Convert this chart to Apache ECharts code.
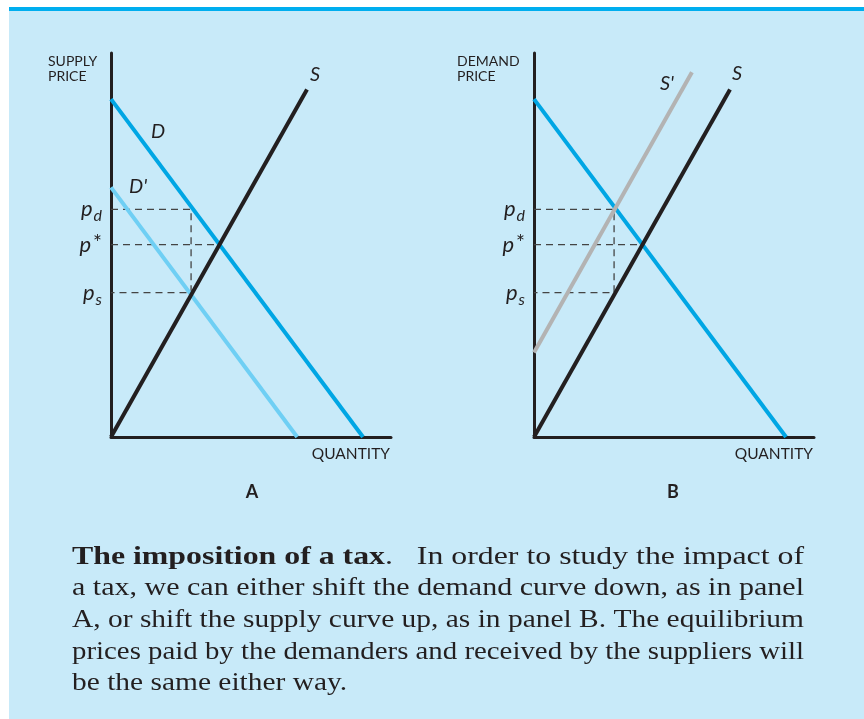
<!DOCTYPE html>
<html>
<head>
<meta charset="utf-8">
<script src="https://cdn.jsdelivr.net/npm/echarts@6/dist/echarts.min.js"></script>
<style>
html, body { margin: 0; padding: 0; background: #fff; }
#main { width: 864px; height: 719px; }
</style>
</head>
<body>
<div id="main"></div>
<script>
// curves in data units (x: quantity 0-100, y: price 0-100)
var demand = [[0, 88], [90, 0]];
var demandShifted = [[0, 65], [66.5, 0]];
var supply = [[0, 0], [70, 90.5]];
var supplyShifted = [[0, 22], [56.4, 95]];

// prices marked on the axis, and the two quantities
var priceTicks = [37.6, 50.1, 59.3];
var priceLabels = ['{p|p}{sub|s}', '{p|p}{sup|*}', '{p|p}{sub|d}'];
var qTax = 28.6;
var qStar = 38.7;

var captionLines = [
    '{b|The imposition of a tax}.   In order to study the impact of',
    'a tax, we can either shift the demand curve down, as in panel',
    'A, or shift the supply curve up, as in panel B. The equilibrium',
    'prices paid by the demanders and received by the suppliers will',
    'be the same either way.'
]

var ink = '#231f20'
var blue = '#00a6e4'
var lightBlue = '#6fcff4'
var grey = '#b3b3b3'
var sans = 'Lato, "Open Sans", sans-serif'
var serif = '"Liberation Serif", serif'

var pS = priceTicks[0], pStar = priceTicks[1], pD = priceTicks[2]
var guideTax = [[0, pD], [qTax, pD], [qTax, pS], [0, pS]]
var guideStar = [[0, pStar], [qStar, pStar]]

var myChart = echarts.init(document.getElementById('main'))

function xAxisFor(idx) {
    return {
        type: 'value', gridIndex: idx, min: 0, max: 100,
        axisLine: { lineStyle: { color: ink, width: 3 } },
        axisTick: { show: false }, axisLabel: { show: false }, splitLine: { show: false }
    }
}
function yAxisFor(idx) {
    return {
        type: 'value', gridIndex: idx, min: 0, max: 100,
        axisLine: { show: true, lineStyle: { color: ink, width: 3 } },
        axisTick: { show: false }, splitLine: { show: false },
        axisLabel: {
            show: true,
            customValues: priceTicks,
            margin: 9,
            formatter: function (v) { return priceLabels[priceTicks.indexOf(v)] },
            rich: {
                p: { fontFamily: sans, fontStyle: 'italic', fontSize: 22, color: ink },
                sub: { fontFamily: sans, fontStyle: 'italic', fontSize: 16, color: ink, padding: [14, 0, 0, 1] },
                sup: { fontFamily: sans, fontSize: 21, color: ink, padding: [0, 0, 3, 2] }
            }
        }
    }
}

function curve(name, data, color, xi, z) {
    return {
        name: name, type: 'line', xAxisIndex: xi, yAxisIndex: xi,
        data: data, symbol: 'circle', symbolSize: 0, silent: true, z: z || 3,
        lineStyle: { color: color, width: 4 }, itemStyle: { color: color }
    }
}
function withLabel(data, i, text, offset) {
    var out = data.map(function (d) { return d.slice() })
    out[i] = {
        value: out[i],
        label: {
            show: true, formatter: text, position: 'inside', offset: offset,
            fontFamily: sans, fontStyle: 'italic', fontSize: 20, color: ink
        }
    }
    return out
}
function guide(data, xi) {
    return {
        type: 'line', xAxisIndex: xi, yAxisIndex: xi, data: data, symbol: 'none', silent: true, z: 1,
        lineStyle: { color: '#444', width: 1.3, type: [7, 5] }
    }
}

// caption: each line stretched to the text block width, like the justified original
var fontPx = 26
var ctx = document.createElement('canvas').getContext('2d')
function measure(line) {
    var w = 0
    line.split(/(\{b\|[^}]*\})/).forEach(function (p) {
        if (!p) return
        var m = p.match(/^\{b\|([^}]*)\}$/)
        ctx.font = (m ? 'bold ' : '') + fontPx + 'px ' + serif
        w += ctx.measureText(m ? m[1] : p).width
    })
    return w
}
var blockWidth = 732
var scales = captionLines.map(function (l) { return blockWidth / measure(l) })
scales[4] = (scales[1] + scales[2] + scales[3]) / 3

var graphics = [
    { type: 'rect', z: -10, shape: { x: 9, y: 7, width: 855, height: 712 }, style: { fill: '#c8eaf9' } },
    { type: 'rect', z: -9, shape: { x: 9, y: 7, width: 855, height: 4 }, style: { fill: '#00aeef' } },
    { type: 'text', x: 48, y: 54, style: { text: 'SUPPLY\nPRICE', font: '14px ' + sans, fill: ink, lineHeight: 15 } },
    { type: 'text', x: 457, y: 54, style: { text: 'DEMAND\nPRICE', font: '14px ' + sans, fill: ink, lineHeight: 15 } },
    { type: 'text', x: 390, y: 446, style: { text: 'QUANTITY', font: '15.5px ' + sans, fill: ink, align: 'right' } },
    { type: 'text', x: 813, y: 446, style: { text: 'QUANTITY', font: '15.5px ' + sans, fill: ink, align: 'right' } },
    { type: 'text', x: 252, y: 492, style: { text: 'A', font: 'bold 18px ' + sans, fill: ink, align: 'center', verticalAlign: 'middle' } },
    { type: 'text', x: 673, y: 492, style: { text: 'B', font: 'bold 18px ' + sans, fill: ink, align: 'center', verticalAlign: 'middle' } }
]
captionLines.forEach(function (l, i) {
    graphics.push({
        type: 'text', x: 72, y: 557 + i * 31.6, scaleX: scales[i],
        style: {
            text: l, font: fontPx + 'px ' + serif, fill: ink, verticalAlign: 'middle',
            rich: { b: { fontWeight: 'bold', fontSize: fontPx, fontFamily: serif, fill: ink } }
        }
    })
})

var option = {
    backgroundColor: '#fff',
    animation: false,
    grid: [
        { left: 111, top: 53, width: 280, height: 384 },
        { left: 534, top: 53, width: 280, height: 384 }
    ],
    xAxis: [xAxisFor(0), xAxisFor(1)],
    yAxis: [yAxisFor(0), yAxisFor(1)],
    graphic: graphics,
    series: [
        guide(guideTax, 0),
        guide(guideStar, 0),
        curve('D', withLabel(demand, 0, 'D', [47, 32]), blue, 0),
        curve("D'", withLabel(demandShifted, 0, "D'", [27, -1]), lightBlue, 0),
        curve('S', withLabel(supply, 1, 'S', [8, -15]), ink, 0, 4),
        guide(guideTax, 1),
        guide(guideStar, 1),
        curve('D', demand, blue, 1),
        curve("S'", withLabel(supplyShifted, 1, "S'", [-25, 11]), grey, 1),
        curve('S', withLabel(supply, 1, 'S', [7, -16]), ink, 1, 4)
    ]
}

myChart.setOption(option)
</script>
</body>
</html>
